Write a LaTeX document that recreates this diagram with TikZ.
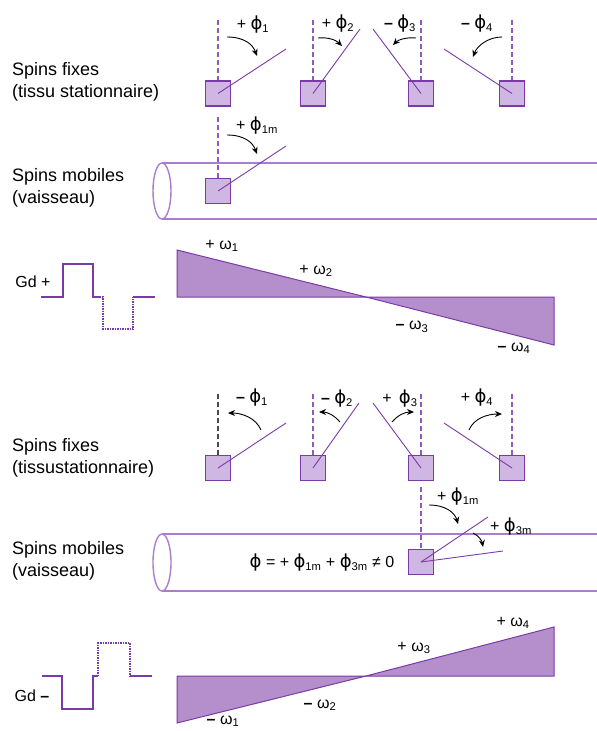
\documentclass[tikz,border=0pt]{standalone}
\usepackage{fontspec}
\setmainfont{Liberation Sans}
\newfontfamily\phifont{DejaVu Sans}
\usepackage{tikz}
\usetikzlibrary{arrows.meta}
\definecolor{spinPurple}{RGB}{122, 58, 168}
\definecolor{dashPurple}{RGB}{146, 88, 190}
\definecolor{boxLilac}{RGB}{208, 182, 226}
\definecolor{rampLilac}{RGB}{180, 143, 204}
\definecolor{tubeLilac}{RGB}{170, 126, 202}
\newcommand{\mn}{{\bfseries –}}
\newcommand{\ph}{{\phifont\fontsize{18}{18}\selectfont ϕ}}

\begin{document}
\begin{tikzpicture}[x=1pt, y=-1pt,
    spinbox/.style={draw=spinPurple, fill=boxLilac, minimum size=25pt, inner sep=0pt, line width=1.1pt},
    spinline/.style={draw=spinPurple, line width=0.9pt},
    axisline/.style={draw=dashPurple, line width=1.2pt, dash pattern=on 5pt off 3pt},
    turn/.style={-{Stealth[length=7pt,width=6pt]}, line width=0.9pt},
    tube/.style={draw=tubeLilac, line width=1.4pt},
    ramp/.style={fill=rampLilac, draw=spinPurple, line width=1pt},
    pulse/.style={draw=spinPurple, line width=1.5pt},
    grouplabel/.style={font=\fontsize{18}{21.5}\selectfont, align=left, anchor=west, inner sep=0pt},
    phase/.style={font=\fontsize{16}{18}\selectfont, inner sep=0pt}]
  \useasboundingbox (0,0) rectangle (597,731);

  % ---- upper half: Gd +
  \node[grouplabel] (fixA) at (12,82) {Spins fixes\\(tissu stationnaire)};
  \node[grouplabel] (mobA) at (12,188) {Spins mobiles\\(vaisseau)};

  \draw[tube] (162,191) ellipse [x radius=9, y radius=28];
  \draw[tube] (162,163) -- (597,163);
  \draw[tube] (162,219) -- (597,219);

  \node[spinbox] (a1) at (218,93.5) {};
  \node[spinbox] (a2) at (313,93.5) {};
  \node[spinbox] (a3) at (421,93.5) {};
  \node[spinbox] (a4) at (512,93.5) {};
  \node[spinbox] (am) at (218,191) {};

  \coordinate (a1top) at (218,20);
  \coordinate (a2top) at (313,20);
  \coordinate (a3top) at (421,20);
  \coordinate (a4top) at (512,20);
  \coordinate (amtop) at (218,117);
  \draw[axisline] (a1top) -- (a1.north);
  \draw[axisline] (a2top) -- (a2.north);
  \draw[axisline] (a3top) -- (a3.north);
  \draw[axisline] (a4top) -- (a4.north);
  \draw[axisline] (amtop) -- (am.north);

  \coordinate (a1tip) at (286,49);
  \coordinate (a2tip) at (360,29);
  \coordinate (a3tip) at (373,29);
  \coordinate (a4tip) at (444,49);
  \coordinate (amtip) at (286,146);
  \draw[spinline] (a1.center) -- (a1tip);
  \draw[spinline] (a2.center) -- (a2tip);
  \draw[spinline] (a3.center) -- (a3tip);
  \draw[spinline] (a4.center) -- (a4tip);
  \draw[spinline] (am.center) -- (amtip);

  \draw[turn] (227,37) .. controls (245,37) and (253,45) .. (257,56);
  \draw[turn] (318,38) .. controls (328,37) and (336,40) .. (342,46);
  \draw[turn] (416,38) .. controls (406,37) and (398,40) .. (393,45);
  \draw[turn] (502,37) .. controls (488,37) and (477,46) .. (473,57);
  \draw[turn] (227,135) .. controls (245,135) and (253,143) .. (257,154);

  \node[phase] (pa1) at (253,25) {+ \ph\textsubscript{1}};
  \node[phase] (pa2) at (338,24) {+ \ph\textsubscript{2}};
  \node[phase] (pa3) at (400,24) {\mn{} \ph\textsubscript{3}};
  \node[phase] (pa4) at (477,24) {\mn{} \ph\textsubscript{4}};
  \node[phase] (pam) at (257,126) {+ \ph\textsubscript{1m}};

  \node[phase] (gdA) at (33,282) {Gd +};
  \draw[pulse] (41,297) -- (63,297) -- (63,264) -- (93,264) -- (93,297) -- (99,297);
  \draw[pulse, densely dotted] (99,297) -- (103,297) -- (103,329) -- (133,329) -- (133,297);
  \draw[pulse] (133,297) -- (155,297);

  \draw[ramp] (177,250) -- (177,297) -- (366,297) -- cycle;
  \draw[ramp] (366,297) -- (554,297) -- (554,345) -- cycle;
  \node[phase] (wa1) at (222,246) {+ ω\textsubscript{1}};
  \node[phase] (wa2) at (316,271) {+ ω\textsubscript{2}};
  \node[phase] (wa3) at (412,327) {\mn{} ω\textsubscript{3}};
  \node[phase] (wa4) at (514,348) {\mn{} ω\textsubscript{4}};

  % ---- lower half: Gd -
  \node[grouplabel] (fixB) at (12,458) {Spins fixes\\(tissustationnaire)};
  \node[grouplabel] (mobB) at (12,561) {Spins mobiles\\(vaisseau)};

  \draw[tube] (162,562.5) ellipse [x radius=9, y radius=28.5];
  \draw[tube] (162,534) -- (597,534);
  \draw[tube] (162,591) -- (597,591);

  \node[spinbox] (b1) at (218,468) {};
  \node[spinbox] (b2) at (313,468) {};
  \node[spinbox] (b3) at (421,468) {};
  \node[spinbox] (b4) at (512,468) {};
  \node[spinbox] (bm) at (421,562) {};

  \coordinate (b1top) at (218,394);
  \coordinate (b2top) at (313,394);
  \coordinate (b3top) at (421,394);
  \coordinate (b4top) at (512,394);
  \coordinate (bmtop) at (421,487);
  \draw[axisline, draw=black!70] (b1top) -- (b1.north);
  \draw[axisline] (b2top) -- (b2.north);
  \draw[axisline] (b3top) -- (b3.north);
  \draw[axisline] (b4top) -- (b4.north);
  \draw[axisline] (bmtop) -- (bm.north);

  \coordinate (b1tip) at (286,423);
  \coordinate (b2tip) at (359,403);
  \coordinate (b3tip) at (373,403);
  \coordinate (b4tip) at (444,423);
  \coordinate (bmtipA) at (488,517);
  \coordinate (bmtipB) at (503,551);
  \draw[spinline] (b1.center) -- (b1tip);
  \draw[spinline] (b2.center) -- (b2tip);
  \draw[spinline] (b3.center) -- (b3tip);
  \draw[spinline] (b4.center) -- (b4tip);
  \draw[spinline] (bm.center) -- (bmtipA);
  \draw[spinline] (bm.center) -- (bmtipB);

  \draw[turn] (261,430) .. controls (256,418) and (242,413) .. (228,413);
  \draw[turn] (340,422) .. controls (334,415) and (327,412) .. (319,412);
  \draw[turn] (392,422) .. controls (398,415) and (405,412) .. (414,412);
  \draw[turn] (469,430) .. controls (474,418) and (488,414) .. (502,414);
  \draw[turn] (429,505) .. controls (446,505) and (455,513) .. (458,524);
  \draw[turn] (473,533) .. controls (479,536) and (482,541) .. (483,547);

  \node[phase] (pb1) at (252,398) {\mn{} \ph\textsubscript{1}};
  \node[phase] (pb2) at (337,399) {\mn{} \ph\textsubscript{2}};
  \node[phase] (pb3) at (400,399) {+ \,\ph\textsubscript{3}};
  \node[phase] (pb4) at (477,398) {+ \ph\textsubscript{4}};
  \node[phase] (pbm1) at (458,497) {+ \ph\textsubscript{1m}};
  \node[phase] (pbm3) at (511,527) {+ \ph\textsubscript{3m}};
  \node[phase] (sum) at (322,563) {\ph{} = + \ph\textsubscript{1m} + \ph\textsubscript{3m} ≠ 0};

  \node[phase] (gdB) at (32,696) {Gd \mn};
  \draw[pulse] (42,676) -- (62,676) -- (62,709) -- (93,709) -- (93,676) -- (98,676);
  \draw[pulse, densely dotted] (98,676) -- (98,643) -- (130,643) -- (130,676);
  \draw[pulse] (130,676) -- (152,676);

  \draw[ramp] (177,676) -- (177,723) -- (366,676) -- cycle;
  \draw[ramp] (366,676) -- (554,627) -- (554,676) -- cycle;
  \node[phase] (wb1) at (223,721) {\mn{} ω\textsubscript{1}};
  \node[phase] (wb2) at (320,705) {\mn{} ω\textsubscript{2}};
  \node[phase] (wb3) at (414,648) {+ ω\textsubscript{3}};
  \node[phase] (wb4) at (513,623) {+ ω\textsubscript{4}};
\end{tikzpicture}
\end{document}
